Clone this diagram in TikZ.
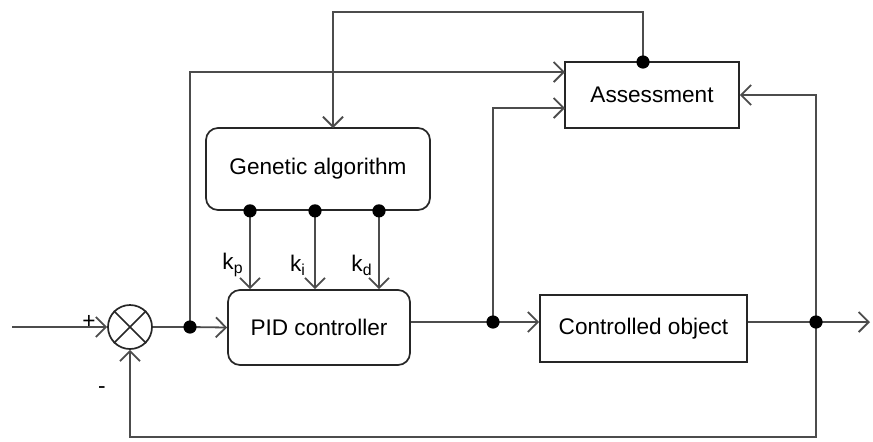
\documentclass[tikz,border=0pt]{standalone}
\usepackage{fontspec}
\setmainfont{Liberation Sans}
\usetikzlibrary{arrows.meta}
\tikzset{
  block/.style={draw=black!85,line width=0.85pt,inner sep=0pt},
  roundblock/.style={block,rounded corners=6pt},
  conn/.style={draw=black!70,line width=0.9pt},
  dot/.style={fill=black},
}
\begin{document}
\begin{tikzpicture}[x=0.5pt,y=-0.5pt,>={Straight Barb[length=5pt,width=10pt]},
  font=\fontsize{11.3}{13}\selectfont]
		\useasboundingbox (0,0) rectangle (873,441);
		% blocks
		\node [roundblock,minimum width=112pt,minimum height=41pt] (ga) at (318,169) {Genetic algorithm};
		\node [roundblock,minimum width=91pt,minimum height=37.5pt] (pid) at (319,327.5) {PID controller};
		\node [block,minimum width=103.5pt,minimum height=33.5pt] (co) at (643.5,328.5) {Controlled object};
		\node [block,minimum width=87pt,minimum height=33pt] (as) at (652,95) {Assessment};
		\node [draw=black!85,line width=0.85pt,circle,minimum size=22pt,inner sep=0pt] (sum) at (130,327) {};
		\draw [black!85,line width=0.85pt] (sum.45) -- (sum.225) (sum.135) -- (sum.315);
		\node (plus) at (89,322) {+};
		\node (minus) at (102,390) {-};
		% junctions
		\coordinate (in) at (12,327);
		\coordinate (d1) at (190,327);
		\coordinate (d2) at (493,322);
		\coordinate (d3) at (816,322);
		\coordinate (out) at (870,322);
		\coordinate (dA) at (643,62);
		\coordinate (top) at (643,12);
		\coordinate (gaIn) at (333,128);
		\coordinate (bot) at (816,437);
		\coordinate (asIn1) at (565,72);
		\coordinate (asIn2) at (565,108);
		% forward path
		\draw [conn,->] (in) -- (sum);
		\draw [conn] (sum) -- (d1);
		\draw [conn,->] (d1) -- (pid.west);
		\draw [conn] (pid.east |- d2) -- (d2);
		\draw [conn,->] (d2) -- (co.west |- d2);
		\draw [conn] (co.east |- d3) -- (d3);
		\draw [conn,->] (d3) -- (out);
		% feedback
		\draw [conn,->] (d3) -- (bot) -| (sum.south);
		\draw [conn,->] (d3) |- (as.east);
		\draw [conn,->] (d1) |- (asIn1);
		\draw [conn,->] (d2) |- (asIn2);
		\draw [conn,->] (dA) -- (top) -| (gaIn);
		% gains
		\foreach \x/\k in {250/p,315/i,379/d}{
			\draw [conn,->] (ga.south -| \x,0) -- (pid.north -| \x,0);
			\fill [dot] (ga.south -| \x,0) circle (3.3pt);
		}
		\node (kp) at (233,265) {k\textsubscript{p}};
		\node (ki) at (298,265) {k\textsubscript{i}};
		\node (kd) at (362,265) {k\textsubscript{d}};
		\foreach \c in {d1,d2,d3,dA}
			\fill [dot] (\c) circle (3.3pt);
	\end{tikzpicture}
\end{document}
